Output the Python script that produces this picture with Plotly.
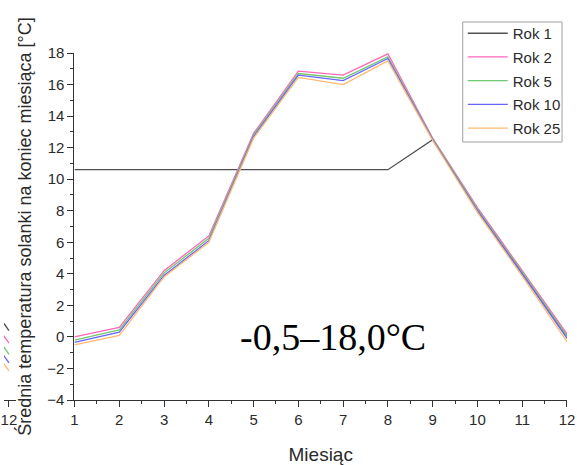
import plotly.graph_objects as go

W, H = 577, 465
months = [1, 2, 3, 4, 5, 6, 7, 8, 9, 10, 11, 12]
series_names = ["Rok 1", "Rok 2", "Rok 5", "Rok 10", "Rok 25"]
rok1 = [10.6, 10.6, 10.6, 10.6, 10.6, 10.6, 10.6, 10.6, 12.5, 8.05, 4.0, 0.05]
rok2 = [0.0, 0.6, 4.2, 6.4, 12.9, 16.85, 16.6, 17.95, 12.6, 8.2, 4.2, 0.2]
rok5 = [-0.2, 0.45, 4.05, 6.25, 12.8, 16.7, 16.4, 17.75, 12.55, 8.1, 4.1, 0.05]
rok10 = [-0.35, 0.3, 3.9, 6.1, 12.7, 16.6, 16.25, 17.65, 12.5, 8.0, 4.0, -0.1]
rok25 = [-0.5, 0.1, 3.8, 6.0, 12.6, 16.45, 16.0, 17.5, 12.45, 7.9, 3.85, -0.3]
values = [rok1, rok2, rok5, rok10, rok25]
colors = ["#505050", "#ff66b8", "#70c870", "#6666ff", "#ffb870"]

# cropped neighbouring chart visible at the left edge
nb_months = [11, 12]
nb_values = [[4.9, 0.4], [4.1, -0.4], [3.4, -1.1], [2.85, -1.65], [2.35, -2.15]]

y_ticks = list(range(-4, 19, 2))
x_ticks = months
x_title = "Miesiąc"
y_title = "Średnia temperatura solanki na koniec miesiąca [°C]"
note = "-0,5–18,0°C"

L, R, T, B = 71, 567, 53, 400
font = "Liberation Sans"
ink = "#2a2a2a"

fig = go.Figure()
for name, vals, c in zip(series_names, values, colors):
    fig.add_trace(go.Scatter(x=months, y=vals, mode="lines", name=name, legendgroup=name,
                             line=dict(color=c, width=1.3), xaxis="x", yaxis="y"))
for vals, c in zip(nb_values, colors):
    fig.add_trace(go.Scatter(x=nb_months, y=vals, mode="lines", showlegend=False,
                             line=dict(color=c, width=1.3), xaxis="x2", yaxis="y2",
                             hoverinfo="skip"))

axis_common = dict(showline=True, linecolor="#333333", linewidth=1.3,
                   ticks="outside", tickcolor="#333333", tickwidth=1.3, ticklen=6,
                   showgrid=False, zeroline=False,
                   tickfont=dict(family=font, size=15, color=ink))

PH = B - T
fig.update_layout(
    width=W, height=H,
    margin=dict(l=0, r=W - R, t=T, b=H - B),
    plot_bgcolor="white", paper_bgcolor="white",
    xaxis=dict(domain=[L / R, 1], range=[1, 12], tickvals=x_ticks,
               minor=dict(dtick=0.5, ticks="outside", ticklen=3, tickcolor="#333333", tickwidth=1.3),
               title=dict(text=x_title, font=dict(family=font, size=19, color=ink), standoff=22),
               anchor="y", **axis_common),
    yaxis=dict(range=[-4, 18], tickvals=y_ticks,
               minor=dict(dtick=1, ticks="outside", ticklen=3, tickcolor="#333333", tickwidth=1.3),
               title=dict(text=y_title, font=dict(family=font, size=18, color=ink), standoff=10),
               anchor="x", **axis_common),
    xaxis2=dict(domain=[0, 12 / R], range=[11.9, 12.14], tickvals=[12], anchor="y2",
                **axis_common),
    yaxis2=dict(range=[-4, 18], anchor="x2", visible=False, domain=[0, 1]),
    legend=dict(x=462 / R, y=1 + (T - 17) / PH, xanchor="left", yanchor="top",
                bgcolor="rgba(0,0,0,0)", borderwidth=0,
                font=dict(family=font, size=15, color=ink),
                itemwidth=40, tracegroupgap=1.2),
    showlegend=True,
    shapes=[dict(type="rect", xref="paper", yref="paper",
                 x0=462 / R, x1=562 / R, y0=1 + (T - 142) / PH, y1=1 + (T - 22) / PH,
                 line=dict(color="#a0a0a0", width=1), fillcolor="white", layer="above")],
    annotations=[dict(text=note, x=331 / R, y=(B - 337) / PH, xref="paper", yref="paper",
                      showarrow=False, xanchor="center", yanchor="middle",
                      font=dict(family="Liberation Serif", size=38, color="black"))],
)

fig.write_html("out.html")
